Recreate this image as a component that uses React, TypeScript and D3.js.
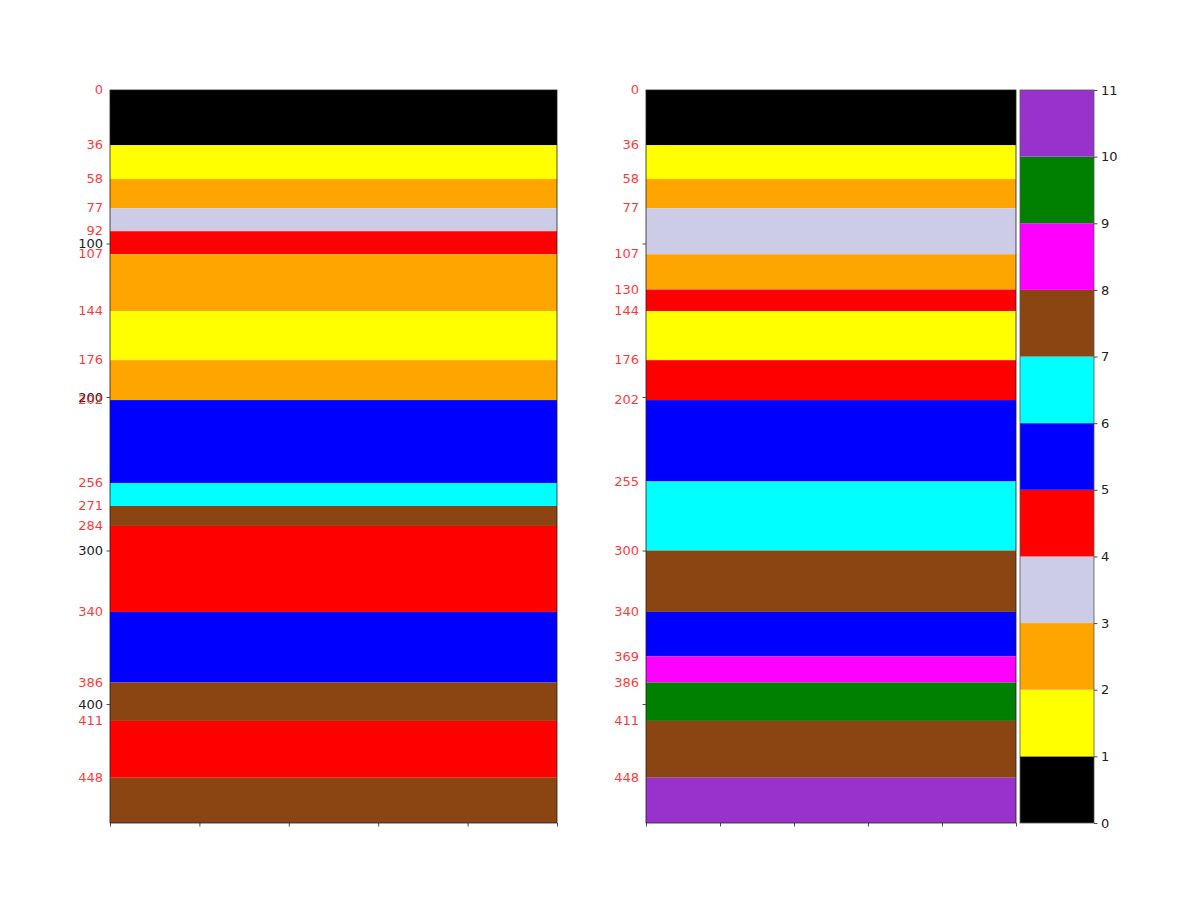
import React, { useRef, useEffect } from "react";
import * as d3 from "d3";

const faciesColors = [
  "#000000",
  "#ffff00",
  "#ffa500",
  "#ccccE6",
  "#ff0000",
  "#0000ff",
  "#00ffff",
  "#8b4513",
  "#ff00ff",
  "#008000",
  "#9932cc",
];

const maxDepth = 477.5;
const depthTicks = [100, 200, 300, 400];

const leftTops = [0, 36, 58, 77, 92, 107, 144, 176, 202, 256, 271, 284, 340, 386, 411, 448];
const leftCodes = [0, 1, 2, 3, 4, 2, 1, 2, 5, 6, 7, 4, 5, 7, 4, 7];

const rightTops = [0, 36, 58, 77, 107, 130, 144, 176, 202, 255, 300, 340, 369, 386, 411, 448];
const rightCodes = [0, 1, 2, 3, 2, 4, 1, 4, 5, 6, 7, 5, 8, 9, 7, 10];

const colorbarTicks = d3.range(0, 12);

const W = 1196;
const H = 903;
const top = 90;
const bottom = 823;

const App = () => {
  const svgRef = useRef<SVGSVGElement>(null);

  useEffect(() => {
    const svg = d3.select(svgRef.current);
    svg.selectAll("*").remove();

    const y = d3.scaleLinear().domain([0, maxDepth]).range([top, bottom]);

    const drawLog = (
      tops: number[],
      codes: number[],
      x0: number,
      x1: number,
      showLabels: boolean
    ) => {
      const g = svg.append("g");
      const x = d3.scaleLinear().domain([0, 1]).range([x0, x1]);

      tops.forEach((t, i) => {
        const b = i < tops.length - 1 ? tops[i + 1] : maxDepth;
        g.append("rect")
          .attr("x", x(0))
          .attr("y", y(t))
          .attr("width", x(1) - x(0))
          .attr("height", y(b) - y(t))
          .attr("fill", faciesColors[codes[i]]);
      });

      // y axis (black ticks)
      const yAxis = g
        .append("g")
        .attr("transform", `translate(${x0},0)`)
        .call(
          d3
            .axisLeft(y)
            .tickValues(depthTicks)
            .tickSize(3.5)
            .tickPadding(3.5)
            .tickFormat((d) => (showLabels ? String(d) : ""))
        );
      yAxis.select(".domain").remove();
      yAxis.selectAll("line").attr("stroke", "#222").attr("stroke-width", 0.8);
      yAxis
        .selectAll("text")
        .attr("font-family", "DejaVu Sans")
        .attr("font-size", 13)
        .attr("fill", "#222");

      // red boundary labels
      tops.forEach((t) => {
        g.append("text")
          .attr("x", x0 - 7)
          .attr("y", y(t))
          .attr("dy", "0.32em")
          .attr("text-anchor", "end")
          .attr("font-family", "DejaVu Sans")
          .attr("font-size", 13)
          .attr("fill", "#ff0000")
          .attr("fill-opacity", 0.8)
          .text(t);
      });

      // x axis ticks, no labels
      const xAxis = g
        .append("g")
        .attr("transform", `translate(0,${bottom})`)
        .call(
          d3
            .axisBottom(x)
            .ticks(5)
            .tickSize(3.5)
            .tickFormat(() => "")
        );
      xAxis.select(".domain").remove();
      xAxis.selectAll("line").attr("stroke", "#222").attr("stroke-width", 0.8);

      g.append("rect")
        .attr("x", x0)
        .attr("y", top)
        .attr("width", x1 - x0)
        .attr("height", bottom - top)
        .attr("fill", "none")
        .attr("stroke", "#222")
        .attr("stroke-width", 0.8);
    };

    drawLog(leftTops, leftCodes, 110, 557, true);
    drawLog(rightTops, rightCodes, 646, 1016, false);

    // colorbar
    const cb = svg.append("g");
    const cy = d3.scaleLinear().domain([0, 11]).range([bottom, top]);
    const cx0 = 1020;
    const cx1 = 1094;
    faciesColors.forEach((c, i) => {
      cb.append("rect")
        .attr("x", cx0)
        .attr("y", cy(i + 1))
        .attr("width", cx1 - cx0)
        .attr("height", cy(i) - cy(i + 1))
        .attr("fill", c);
    });
    cb.append("rect")
      .attr("x", cx0)
      .attr("y", top)
      .attr("width", cx1 - cx0)
      .attr("height", bottom - top)
      .attr("fill", "none")
      .attr("stroke", "#555")
      .attr("stroke-width", 0.8);
    const cAxis = cb
      .append("g")
      .attr("transform", `translate(${cx1},0)`)
      .call(
        d3
          .axisRight(cy)
          .tickValues(colorbarTicks)
          .tickSize(3.5)
          .tickPadding(3.5)
          .tickFormat(d3.format("d"))
      );
    cAxis.select(".domain").remove();
    cAxis.selectAll("line").attr("stroke", "#222").attr("stroke-width", 0.8);
    cAxis
      .selectAll("text")
      .attr("font-family", "DejaVu Sans")
      .attr("font-size", 13)
      .attr("fill", "#222");
  }, []);

  return (
    <div style={{ position: "absolute", left: 0, top: 0 }}>
      <svg ref={svgRef} width={W} height={H} style={{ display: "block", background: "#fff" }} />
    </div>
  );
};

export default App;
